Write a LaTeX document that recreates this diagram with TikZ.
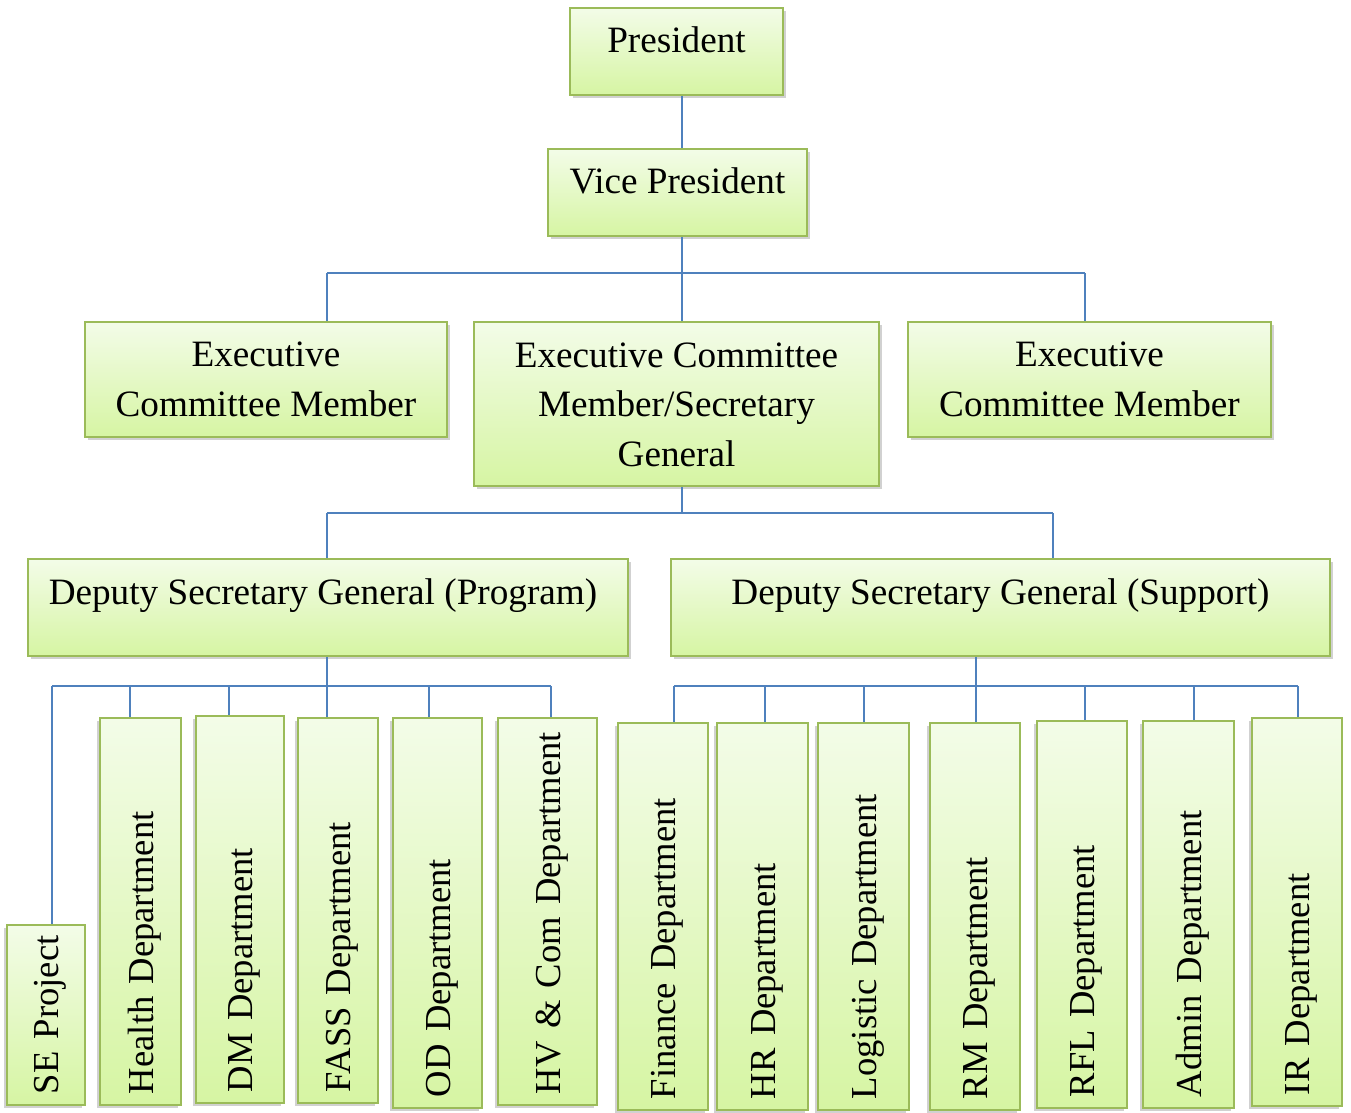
\documentclass[tikz,border=0pt]{standalone}
\usepackage{fontspec}
\setmainfont{Liberation Serif}
\usetikzlibrary{shadows}

\definecolor{boxtop}{RGB}{243,252,232}
\definecolor{boxbot}{RGB}{214,245,163}
\definecolor{boxline}{RGB}{155,187,89}
\definecolor{linkblue}{RGB}{79,129,189}

\tikzset{
  box/.style={draw=boxline, line width=1pt, top color=boxtop, bottom color=boxbot,
    drop shadow={shadow xshift=1.5pt, shadow yshift=-1.5pt, opacity=0.3, fill=black!60},
    anchor=north, align=center, inner xsep=0pt, inner ysep=0pt, text height=22.5pt,
    font=\fontsize{18.6}{24.7}\selectfont},
  dept/.style={draw=boxline, line width=1pt, top color=boxtop, bottom color=boxbot,
    drop shadow={shadow xshift=-1.5pt, shadow yshift=-1.5pt, opacity=0.3, fill=black!60},
    rotate=90, align=left, inner xsep=5.5pt, inner ysep=0pt, text height=14pt, text depth=1.4pt,
    font=\fontsize{18.3}{24.7}\selectfont,
    execute at begin node={\hyphenpenalty=10000\exhyphenpenalty=10000}},
  link/.style={draw=linkblue, line width=1pt}
}

\begin{document}
\begin{tikzpicture}[x=0.5pt, y=-0.5pt]
  \useasboundingbox (0,0) rectangle (1351,1113);

  % Top of the chart
  \node[box, minimum width=106.5pt, text depth=21pt] (pres) at (676.5,7) {President};
  \node[box, minimum width=129.5pt, text depth=21pt] (vp) at (677.5,148) {Vice President};

  % Executive committee
  \node[box, minimum width=181pt, text height=47pt, text depth=10.5pt] (ecl) at (266,321) {Executive\\Committee Member};
  \node[box, minimum width=202.5pt, text height=72pt, text depth=10pt] (ecc) at (676.5,321) {Executive Committee\\Member/Secretary\\General};
  \node[box, minimum width=181.5pt, text height=47pt, text depth=10.5pt] (ecr) at (1089.5,321) {Executive\\Committee Member};

  % Deputies
  \node[box, minimum width=300pt, text depth=26pt] (dsgp) at (328,558) {Deputy Secretary General (Program)\hspace*{5pt}};
  \node[box, minimum width=329.5pt, text depth=26pt] (dsgs) at (1000.5,558) {Deputy Secretary General (Support)};

  % Program side
  \node[dept, text width=79pt, minimum height=39pt] (se) at (46,1015) {SE~Project};
  \node[dept, text width=182.5pt, minimum height=40.5pt] (health) at (140.5,911.5) {Health~Department};
  \node[dept, text width=182.5pt, minimum height=44pt] (dm) at (240,909.5) {DM~Department};
  \node[dept, text width=181.5pt, minimum height=40pt] (fass) at (338,910.5) {FASS~Department};
  \node[dept, text width=184pt, minimum height=44.5pt] (od) at (437.5,913) {OD~Department};
  \node[dept, text width=182.5pt, minimum height=49.5pt] (hv) at (547.5,911.5) {HV~\&~Com~Department};

  % Support side
  \node[dept, text width=182.5pt, minimum height=45pt] (fin) at (663,916.5) {Finance~Department};
  \node[dept, text width=182.5pt, minimum height=45.5pt] (hr) at (762.5,916.5) {HR~Department};
  \node[dept, text width=182.5pt, minimum height=45.5pt] (logi) at (863.5,916.5) {Logistic~Department};
  \node[dept, text width=182.5pt, minimum height=45pt] (rm) at (975,916.5) {RM~Department};
  \node[dept, text width=182.5pt, minimum height=45pt] (rfl) at (1082,914.5) {RFL~Department};
  \node[dept, text width=182.5pt, minimum height=45.5pt] (admin) at (1188.5,914.5) {Admin~Department};
  \node[dept, text width=183pt, minimum height=45pt] (ir) at (1297,912) {IR~Department};

  % Connectors
  \coordinate (t1) at (682,273);
  \coordinate (b1l) at (327,273);
  \coordinate (b1r) at (1085,273);
  \draw[link] (pres.south -| t1) -- (vp.north -| t1);
  \draw[link] (vp.south -| t1) -- (t1);
  \draw[link] (b1l) -- (b1r);
  \draw[link] (b1l) -- (ecl.north -| b1l);
  \draw[link] (t1) -- (ecc.north -| t1);
  \draw[link] (b1r) -- (ecr.north -| b1r);

  \coordinate (t2) at (682,513);
  \coordinate (b2l) at (327,513);
  \coordinate (b2r) at (1053,513);
  \draw[link] (ecc.south -| t2) -- (t2);
  \draw[link] (b2l) -- (b2r);
  \draw[link] (b2l) -- (dsgp.north -| b2l);
  \draw[link] (b2r) -- (dsgs.north -| b2r);

  \coordinate (t3) at (327,686);
  \draw[link] (dsgp.south -| t3) -- (t3);
  \draw[link] (52,686) -- (551,686);
  \foreach \x/\n in {52/se, 130/health, 229/dm, 327/fass, 429/od, 551/hv} {
    \coordinate (d) at (\x,686);
    \draw[link] (d) -- (d |- \n.east);
  }

  \coordinate (t4) at (976,686);
  \draw[link] (dsgs.south -| t4) -- (t4);
  \draw[link] (674,686) -- (1298,686);
  \foreach \x/\n in {674/fin, 765/hr, 864/logi, 976/rm, 1085/rfl, 1194/admin, 1298/ir} {
    \coordinate (d) at (\x,686);
    \draw[link] (d) -- (d |- \n.east);
  }
\end{tikzpicture}
\end{document}
